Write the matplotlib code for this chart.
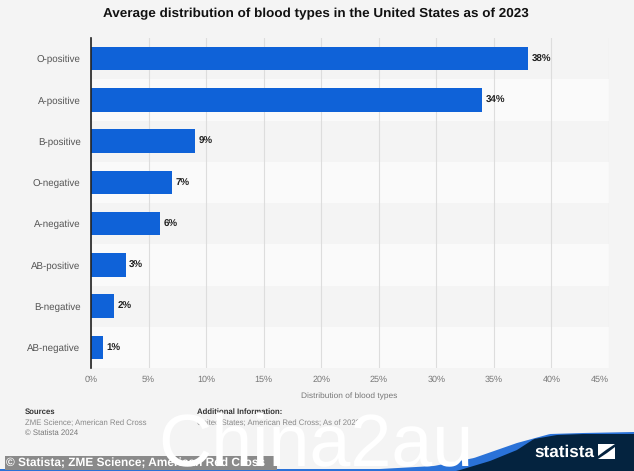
import matplotlib
matplotlib.use("Agg")
import matplotlib.pyplot as plt
from matplotlib.patches import Rectangle, Polygon
import numpy as np

blood_types = ["O-positive", "A-positive", "B-positive", "O-negative",
               "A-negative", "AB-positive", "B-negative", "AB-negative"]
shares = [38, 34, 9, 7, 6, 3, 2, 1]
x_ticks = [0, 5, 10, 15, 20, 25, 30, 35, 40, 45]

W, H = 634, 471
plt.rcParams["font.family"] = ["Liberation Sans", "DejaVu Sans"]
plt.rcParams["text.hinting"] = "none"
fig = plt.figure(figsize=(W / 100, H / 100), dpi=100, facecolor="#f4f4f4")

def fx(x): return x / W
def fy(y): return 1 - y / H

L, R, T, B = 91, 609, 38, 368
ax = fig.add_axes([fx(L), fy(B), (R - L) / W, (B - T) / H], facecolor="none")
ax.set_xlim(0, 45)
ax.set_ylim(len(shares) - 0.5, -0.5)
y = np.arange(len(shares))

for i in y:
    if i % 2 == 1:
        ax.axhspan(i - 0.5, i + 0.5, color="#fafafa", lw=0, zorder=0)

ax.set_axisbelow(True)
ax.xaxis.grid(True, color="#dddddd", lw=0.8, zorder=1)
ax.barh(y, shares, height=0.565, color="#0f62d8", zorder=2)
for i, v in zip(y, shares):
    ax.annotate(f"{v}%", (v, i), xytext=(2.6, -0.5), textcoords="offset points",
                va="center", ha="left", fontsize=7, fontweight="bold", color="#222222")

for s in ["top", "right", "bottom"]:
    ax.spines[s].set_visible(False)
ax.spines["left"].set_color("#222222")
ax.spines["left"].set_linewidth(1.2)
ax.set_yticks(y, blood_types)
ax.set_xticks(x_ticks)
ax.set_xticklabels([f"{t}%" for t in x_ticks])
ax.tick_params(axis="y", length=0, pad=7.5, labelsize=7, labelcolor="#555555")
ax.tick_params(axis="x", length=0, pad=5, labelsize=6.5, labelcolor="#777777")
ax.get_xticklabels()[-1].set_ha("right")

def t(x, y, s, **k):
    k.setdefault("va", "center")
    return fig.text(fx(x), fy(y), s, **k)

t(315.5, 14, "Average distribution of blood types in the United States as of 2023",
  ha="center", fontsize=9.7, fontweight="bold", color="#111111")
t(349.5, 396.5, "Distribution of blood types", ha="center", fontsize=6.0, color="#777777")
t(25, 412, "Sources", fontsize=5.6, color="#333333", fontweight="bold")
t(25, 422.5, "ZME Science; American Red Cross", fontsize=5.6, color="#888888")
t(25, 433, "© Statista 2024", fontsize=5.6, color="#777777")
t(197, 412, "Additional Information:", fontsize=5.6, color="#333333", fontweight="bold")
t(197, 422.5, "United States; American Red Cross; As of 2023", fontsize=5.6, color="#888888")

# Footer swoosh
xs = np.linspace(0, W, 320)
blue_edge = np.interp(xs, [0, 380, 434, 474, 517, 550, 583, 634], [469, 469, 466, 458, 443, 434, 433, 432])
navy_edge = np.interp(xs, [0, 452, 460, 490, 517, 534, 557, 583, 634], [472, 472, 470, 461, 450, 439, 435, 434, 434])
pts = lambda ys: [(fx(a), fy(b)) for a, b in zip(xs, ys)] + [(1, 0), (0, 0)]
fig.add_artist(Polygon(pts(blue_edge), closed=True, transform=fig.transFigure, fc="#2a72d8", ec="none"))
fig.add_artist(Polygon(pts(navy_edge), closed=True, transform=fig.transFigure, fc="#04233f", ec="none"))
t(564, 452, "statista", ha="center", fontsize=12.3, fontweight="bold", color="white")
fig.add_artist(Rectangle((fx(598), fy(459)), 17 / W, 15 / H, transform=fig.transFigure, fc="white", ec="none"))
fig.add_artist(Polygon([(fx(598), fy(456)), (fx(606), fy(450)), (fx(615), fy(444)), (fx(615), fy(447)),
                        (fx(607), fy(453)), (fx(598), fy(459))],
                       closed=True, transform=fig.transFigure, fc="#04233f", ec="none"))

# Caption strip and watermark
fig.add_artist(Rectangle((fx(5), fy(470)), 272 / W, 14 / H, transform=fig.transFigure, fc="#8a8a8a", ec="none", zorder=3))
fig.text(fx(6), fy(463), "© Statista; ZME Science; American Red Cross", va="center",
         fontsize=8.6, fontweight="bold", color="white", zorder=4)
fig.text(fx(158), fy(466), "China2au", va="baseline", ha="left", fontsize=53, color="white", zorder=5,
         family=["Liberation Sans"])

fig.savefig("out.png", dpi=100, facecolor=fig.get_facecolor())
